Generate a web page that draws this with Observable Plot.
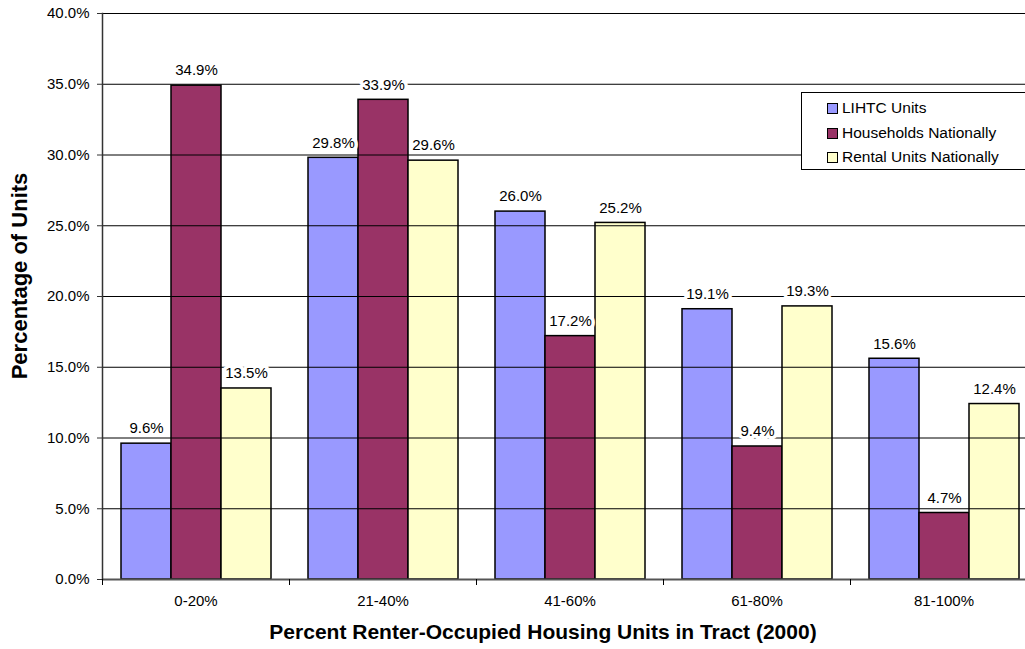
<!DOCTYPE html>
<html>
<head>
<meta charset="utf-8">
<script src="https://cdn.jsdelivr.net/npm/d3@7"></script>
<script src="https://cdn.jsdelivr.net/npm/@observablehq/plot@0.6"></script>
<style>
  html, body { margin: 0; padding: 0; background: #fff; overflow: hidden; }
  #wrap { position: relative; width: 1025px; height: 649px; font-family: "Liberation Sans", Arial, sans-serif; }
  #ytitle { position: absolute; left: 20px; top: 276px; transform: translate(-50%, -50%) rotate(-90deg); font-weight: bold; font-size: 22px; white-space: nowrap; }
  #xtitle { position: absolute; left: 543px; top: 632px; transform: translate(-50%, -50%); font-weight: bold; font-size: 21px; white-space: nowrap; }
  #legend { position: absolute; left: 801px; top: 92px; width: 240px; height: 78px; border: 1px solid #000; background: #fff; box-sizing: border-box; font-size: 15.5px; }
  #legend .item { position: absolute; left: 25px; display: flex; align-items: center; height: 18px; }
  #legend .sw { width: 9px; height: 9px; border: 1px solid #000; margin-right: 4px; }
</style>
</head>
<body>
<div id="wrap"></div>
<script>
const categories = ["0-20%", "21-40%", "41-60%", "61-80%", "81-100%"];
const series = ["LIHTC Units", "Households Nationally", "Rental Units Nationally"];
const colors = ["#9999FF", "#993366", "#FFFFCC"];
const lihtc = [9.6, 29.8, 26.0, 19.1, 15.6];
const households = [34.9, 33.9, 17.2, 9.4, 4.7];
const rental = [13.5, 29.6, 25.2, 19.3, 12.4];
const yTicks = [0, 5, 10, 15, 20, 25, 30, 35, 40];
const yTitle = "Percentage of Units";
const xTitle = "Percent Renter-Occupied Housing Units in Tract (2000)";

const seriesValues = [lihtc, households, rental];
const data = [];
categories.forEach((c, i) => {
  series.forEach((s, j) => data.push({cat: c, series: s, value: seriesValues[j][i]}));
});

const fmt = d => d.toFixed(1) + "%";

const chart = Plot.plot({
  width: 1025,
  height: 649,
  marginLeft: 102,
  marginRight: -12,
  marginTop: 13,
  marginBottom: 70,
  style: {fontFamily: "'Liberation Sans', Arial, sans-serif", fontSize: "15px", color: "#000", background: "#fff", overflow: "visible"},
  fx: {domain: categories, padding: 0, label: null},
  x: {domain: series, paddingInner: 0, paddingOuter: 0.356, axis: null},
  y: {domain: [0, 40], label: null},
  color: {domain: series, range: colors},
  marks: [
    Plot.barY(data, {fx: "cat", x: "series", y: "value", fill: "series", stroke: "#000", strokeWidth: 1.5}),
    Plot.gridY(yTicks.slice(1), {stroke: "#000", strokeOpacity: 1, strokeWidth: 1}),
    Plot.ruleY([0], {stroke: "#555", strokeWidth: 2}),
    Plot.frame({anchor: "left", facetAnchor: "left", stroke: "#333", strokeWidth: 1.5}),
    Plot.axisY({ticks: yTicks, tickFormat: fmt, tickSize: 5, tickPadding: 8, fontSize: 15, label: null, stroke: "#333"}),
    Plot.text(data, {fx: "cat", x: "series", y: "value", text: d => fmt(d.value), dy: -15, fill: "#000", stroke: "#fff", strokeWidth: 7, fontSize: 15}),
    Plot.axisFx({anchor: "bottom", tickSize: 0, tickPadding: 16, fontSize: 15, label: null}),
    Plot.axisFx({anchor: "bottom", tickSize: 6, text: null, dx: -93.5, label: null, stroke: "#000"})
  ]
});

const wrap = document.getElementById("wrap");
wrap.appendChild(chart);

const yt = document.createElement("div"); yt.id = "ytitle"; yt.textContent = yTitle; wrap.appendChild(yt);
const xt = document.createElement("div"); xt.id = "xtitle"; xt.textContent = xTitle; wrap.appendChild(xt);

const legend = document.createElement("div"); legend.id = "legend";
const rowCenters = [15, 40, 64];
series.forEach((s, i) => {
  const item = document.createElement("div"); item.className = "item";
  item.style.top = (rowCenters[i] - 9) + "px";
  const sw = document.createElement("div"); sw.className = "sw"; sw.style.background = colors[i];
  const tx = document.createElement("span"); tx.textContent = s;
  item.appendChild(sw); item.appendChild(tx);
  legend.appendChild(item);
});
wrap.appendChild(legend);
</script>
</body>
</html>
